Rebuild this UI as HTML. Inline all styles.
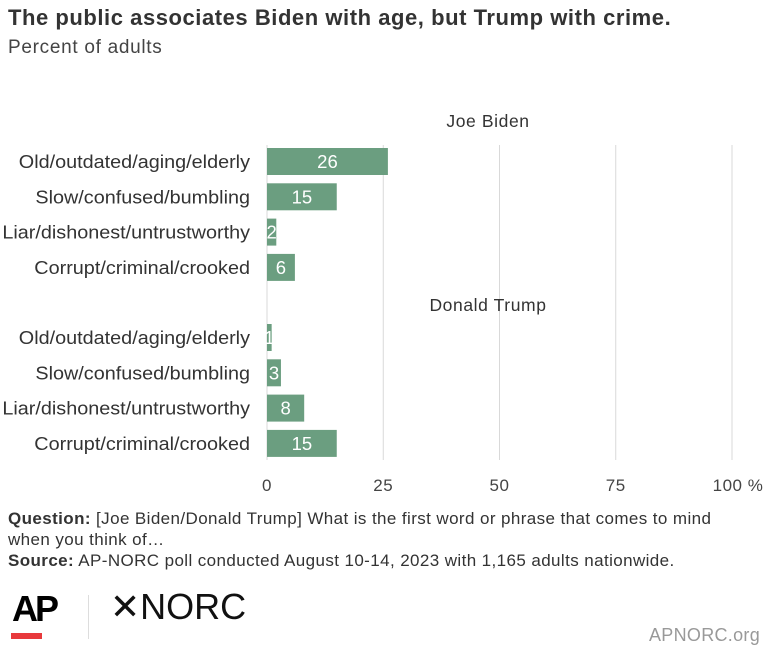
<!DOCTYPE html>
<html><head><meta charset="utf-8"><style>
body{margin:0;background:#fff;font-family:"Liberation Sans",sans-serif;}
#wrap{position:relative;width:766px;height:661px;overflow:hidden;}
.t{position:absolute;white-space:nowrap;}
</style></head><body>
<div id="wrap">
<div class="t" style="left:8px;top:5px;font-size:22px;font-weight:bold;color:#333;letter-spacing:0.55px">The public associates Biden with age, but Trump with crime.</div>
<div class="t" style="left:8px;top:37px;font-size:19px;color:#444;letter-spacing:0.7px">Percent of adults</div>
<svg id="chart" width="766" height="500" style="position:absolute;left:0;top:0"></svg>
<div class="t" style="left:8px;top:508px;font-size:17px;color:#333;line-height:21px;letter-spacing:0.4px"><b>Question:</b> [Joe Biden/Donald Trump] What is the first word or phrase that comes to mind<br>when you think of…<br><b>Source:</b> AP-NORC poll conducted August 10-14, 2023 with 1,165 adults nationwide.</div>
<div class="t" style="left:12px;top:588px;font-size:36px;font-weight:bold;color:#000;letter-spacing:-3px">AP</div>
<div style="position:absolute;left:11px;top:633px;width:31px;height:6px;background:#e8393c"></div>
<div style="position:absolute;left:88px;top:595px;width:1px;height:44px;background:#ddd"></div>
<div class="t" style="left:110px;top:586px;font-size:36px;color:#111">✕NORC</div>
<div class="t" style="left:649px;top:625px;font-size:18px;color:#999;letter-spacing:0.3px">APNORC.org</div>
</div>
<script>
const categories=["Old/outdated/aging/elderly","Slow/confused/bumbling","Liar/dishonest/untrustworthy","Corrupt/criminal/crooked"];
const groups=["Joe Biden","Donald Trump"];
const bidenValues=[26,15,2,6];
const trumpValues=[1,3,8,15];
const ticks=[0,25,50,75,100];
const tickLabels=["0","25","50","75","100 %"];
const svg=document.getElementById('chart');
const NS='http://www.w3.org/2000/svg';
const x0=267,x1=732;
function xs(v){return x0+(x1-x0)*v/100;}
function mk(tag,attrs){const e=document.createElementNS(NS,tag);for(const k in attrs)e.setAttribute(k,attrs[k]);svg.appendChild(e);return e;}
ticks.forEach((t,i)=>{
 const l=mk('line',{x1:xs(t),x2:xs(t),y1:145,y2:460,stroke:'#d9d9d9','stroke-width':1});
 
 
 const tx=mk('text',{x:xs(t)+(i===4?6:0),y:491,'text-anchor':'middle','font-size':17,fill:'#444','font-family':'Liberation Sans, sans-serif','letter-spacing':'0.5'});
 tx.textContent=tickLabels[i];
 
 
});
const groupTops=[148,324];
const headerYs=[127,311];
const series=[bidenValues,trumpValues];
groups.forEach((g,gi)=>{
 const h=mk('text',{x:488,y:headerYs[gi],'text-anchor':'middle','font-size':17.5,fill:'#333','font-family':'Liberation Sans, sans-serif','letter-spacing':'0.6'});
 h.textContent=g;
 
 
 categories.forEach((c,ci)=>{
  const y=groupTops[gi]+ci*35.3;
  const v=series[gi][ci];
  const lab=mk('text',{x:250,y:y+20,'text-anchor':'end','font-size':18,fill:'#333','font-family':'Liberation Sans, sans-serif'});
  lab.textContent=c;
  
  
  const w=lab.getComputedTextLength();
  lab.setAttribute('textLength',(w*1.1).toFixed(1));
  lab.setAttribute('lengthAdjust','spacingAndGlyphs');
  const r=mk('rect',{x:x0,y:y,width:xs(v)-x0,height:27,fill:'#6b9e80'});
  
  
  const vt=mk('text',{x:(x0+xs(v))/2,y:y+20,'text-anchor':'middle','font-size':18.5,fill:'#fff','font-family':'Liberation Sans, sans-serif'});
  vt.textContent=v;
  
  
 });
});
</script>
</body></html>
